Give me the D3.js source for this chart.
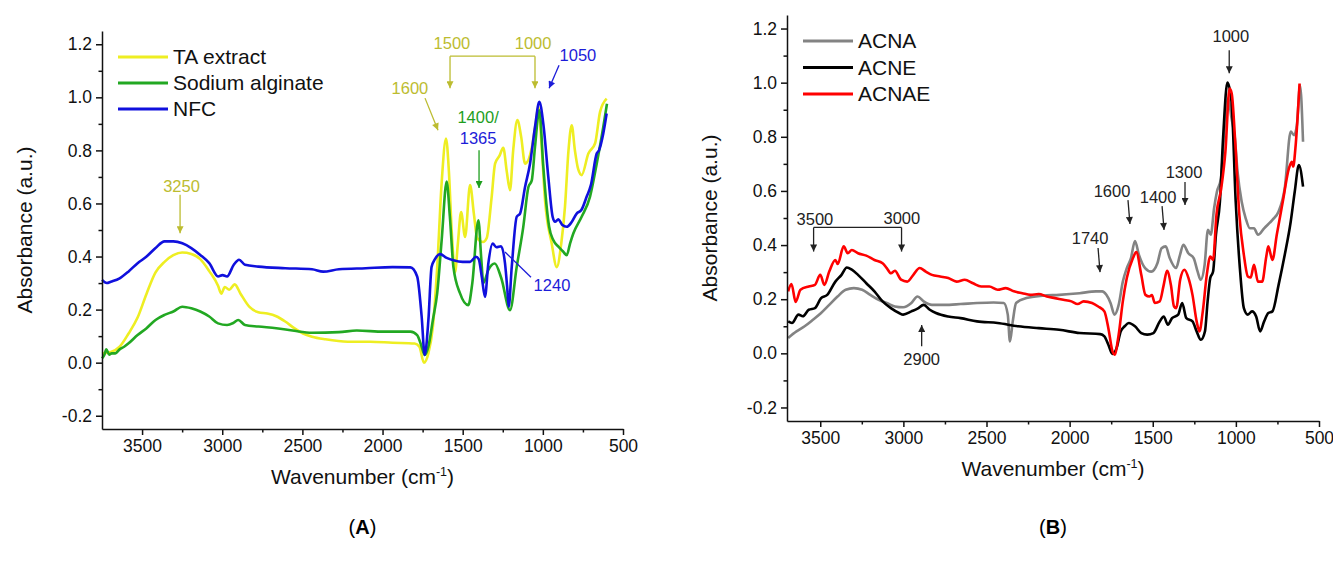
<!DOCTYPE html>
<html>
<head>
<meta charset="utf-8">
<script src="https://cdn.jsdelivr.net/npm/d3@7"></script>
<style>
  body { margin: 0; background: #fff; }
  svg { display: block; }
  text { font-family: "Liberation Sans", Arial, sans-serif; }
</style>
</head>
<body>
<div id="chart"></div>
<script>
// ---- data ----
const xTicks = [3500, 3000, 2500, 2000, 1500, 1000, 500];
const xMinor = [3250, 2750, 2250, 1750, 1250, 750];
const yTicks = [1.2, 1.0, 0.8, 0.6, 0.4, 0.2, 0.0, -0.2];
const yMinor = [1.1, 0.9, 0.7, 0.5, 0.3, 0.1, -0.1];

const taExtract = [[3750,0.035],[3695,0.04],[3640,0.06],[3584,0.11],[3528,0.17],[3472,0.26],[3416,0.34],[3360,0.38],[3305,0.405],[3250,0.415],[3193,0.41],[3137,0.39],[3081,0.345],[3026,0.29],[3006,0.26],[2984,0.285],[2956,0.275],[2922,0.295],[2886,0.26],[2830,0.21],[2775,0.19],[2719,0.185],[2663,0.175],[2607,0.155],[2551,0.13],[2496,0.11],[2440,0.098],[2356,0.088],[2217,0.079],[2077,0.079],[1938,0.075],[1800,0.072],[1770,0.06],[1742,0.0],[1714,0.035],[1686,0.136],[1659,0.36],[1631,0.68],[1604,0.845],[1586,0.72],[1568,0.49],[1548,0.34],[1530,0.45],[1510,0.568],[1485,0.474],[1454,0.669],[1430,0.56],[1410,0.47],[1373,0.455],[1350,0.47],[1320,0.62],[1298,0.75],[1270,0.78],[1247,0.81],[1225,0.72],[1205,0.65],[1185,0.8],[1159,0.914],[1135,0.85],[1111,0.75],[1069,0.81],[1045,0.9],[1028,0.964],[1008,0.82],[986,0.61],[945,0.45],[913,0.36],[885,0.45],[862,0.587],[840,0.8],[820,0.895],[800,0.8],[780,0.73],[758,0.707],[716,0.788],[674,0.827],[643,0.945],[602,0.995]];

const sodiumAlginate = [[3750,0.016],[3735,0.03],[3723,0.05],[3705,0.03],[3690,0.035],[3667,0.035],[3640,0.05],[3612,0.06],[3584,0.073],[3528,0.104],[3472,0.13],[3416,0.161],[3360,0.18],[3305,0.193],[3249,0.211],[3193,0.205],[3137,0.193],[3081,0.174],[3026,0.148],[2970,0.142],[2930,0.15],[2900,0.161],[2858,0.142],[2775,0.136],[2663,0.13],[2551,0.12],[2440,0.113],[2272,0.115],[2161,0.121],[1993,0.117],[1826,0.117],[1784,0.104],[1756,0.06],[1737,0.029],[1714,0.06],[1686,0.161],[1659,0.262],[1631,0.463],[1600,0.683],[1580,0.55],[1558,0.361],[1517,0.262],[1465,0.217],[1440,0.3],[1402,0.537],[1385,0.4],[1371,0.3],[1340,0.35],[1300,0.374],[1260,0.32],[1205,0.198],[1163,0.361],[1122,0.512],[1090,0.662],[1069,0.687],[1049,0.813],[1022,0.951],[997,0.738],[976,0.587],[961,0.513],[935,0.462],[903,0.437],[875,0.42],[851,0.405],[830,0.45],[810,0.487],[758,0.55],[706,0.625],[664,0.75],[623,0.888],[600,0.976]];

const nfc = [[3750,0.312],[3720,0.3],[3695,0.305],[3640,0.318],[3584,0.344],[3528,0.375],[3472,0.4],[3416,0.432],[3360,0.457],[3305,0.457],[3249,0.45],[3193,0.432],[3137,0.406],[3081,0.375],[3026,0.325],[2998,0.33],[2970,0.325],[2928,0.369],[2895,0.388],[2858,0.369],[2775,0.362],[2607,0.356],[2440,0.352],[2370,0.343],[2272,0.352],[2105,0.356],[1938,0.36],[1826,0.359],[1784,0.325],[1756,0.174],[1737,0.029],[1714,0.16],[1694,0.361],[1673,0.39],[1641,0.409],[1600,0.395],[1558,0.386],[1500,0.38],[1454,0.38],[1417,0.399],[1400,0.39],[1381,0.324],[1361,0.248],[1340,0.374],[1313,0.449],[1290,0.435],[1261,0.439],[1236,0.374],[1222,0.28],[1213,0.211],[1194,0.361],[1163,0.55],[1142,0.562],[1111,0.662],[1080,0.75],[1049,0.888],[1022,0.983],[997,0.9],[966,0.7],[939,0.55],[924,0.531],[903,0.54],[880,0.52],[851,0.512],[820,0.53],[789,0.562],[760,0.575],[727,0.625],[700,0.67],[664,0.788],[650,0.8],[623,0.864],[602,0.939]];

const acna = [[3693,0.057],[3643,0.081],[3594,0.1],[3544,0.124],[3495,0.149],[3446,0.179],[3396,0.21],[3347,0.235],[3298,0.241],[3248,0.235],[3199,0.216],[3149,0.198],[3100,0.186],[3051,0.173],[3001,0.17],[2952,0.186],[2915,0.21],[2878,0.192],[2828,0.179],[2754,0.179],[2656,0.182],[2557,0.186],[2458,0.188],[2396,0.186],[2372,0.143],[2359,0.044],[2342,0.118],[2322,0.186],[2260,0.204],[2162,0.213],[2063,0.216],[1940,0.222],[1841,0.229],[1804,0.229],[1779,0.216],[1754,0.186],[1730,0.143],[1705,0.179],[1680,0.265],[1656,0.315],[1631,0.352],[1607,0.415],[1583,0.364],[1546,0.315],[1509,0.302],[1472,0.333],[1447,0.388],[1422,0.395],[1398,0.352],[1360,0.315],[1336,0.364],[1316,0.401],[1286,0.37],[1254,0.352],[1230,0.302],[1212,0.272],[1188,0.327],[1168,0.456],[1151,0.438],[1131,0.536],[1114,0.597],[1090,0.646],[1063,0.868],[1046,0.942],[1026,0.868],[1006,0.794],[990,0.671],[965,0.56],[941,0.499],[916,0.462],[891,0.462],[867,0.438],[830,0.462],[780,0.493],[743,0.524],[706,0.61],[670,0.819],[650,0.806],[633,0.843],[614,0.99],[596,0.782]];

const acne = [[3693,0.118],[3670,0.112],[3631,0.143],[3605,0.137],[3569,0.161],[3532,0.167],[3495,0.204],[3458,0.216],[3409,0.265],[3372,0.29],[3340,0.317],[3310,0.309],[3273,0.29],[3223,0.259],[3174,0.229],[3125,0.192],[3075,0.167],[3026,0.149],[3001,0.143],[2952,0.155],[2915,0.165],[2878,0.179],[2841,0.161],[2804,0.149],[2730,0.136],[2656,0.13],[2557,0.118],[2433,0.112],[2310,0.1],[2186,0.093],[2063,0.087],[1940,0.075],[1816,0.071],[1791,0.063],[1767,0.032],[1742,-0.002],[1717,0.02],[1693,0.081],[1669,0.1],[1644,0.112],[1607,0.1],[1569,0.075],[1533,0.069],[1496,0.075],[1458,0.118],[1434,0.136],[1409,0.106],[1384,0.13],[1347,0.143],[1323,0.186],[1298,0.13],[1261,0.118],[1236,0.081],[1211,0.05],[1186,0.081],[1170,0.192],[1154,0.278],[1137,0.302],[1120,0.438],[1096,0.56],[1076,0.806],[1051,1.0],[1026,0.929],[1001,0.56],[976,0.315],[952,0.167],[928,0.143],[903,0.155],[878,0.136],[854,0.081],[830,0.118],[805,0.149],[780,0.155],[743,0.253],[706,0.364],[670,0.487],[646,0.597],[621,0.696],[596,0.616]];

const acnae = [[3693,0.229],[3673,0.256],[3648,0.19],[3619,0.235],[3569,0.247],[3532,0.253],[3500,0.29],[3475,0.253],[3446,0.302],[3409,0.345],[3395,0.33],[3359,0.395],[3335,0.37],[3310,0.382],[3273,0.37],[3223,0.361],[3174,0.345],[3125,0.333],[3100,0.315],[3075,0.296],[3051,0.305],[3014,0.272],[2977,0.265],[2940,0.29],[2902,0.315],[2865,0.302],[2828,0.29],[2779,0.284],[2730,0.278],[2680,0.265],[2631,0.272],[2581,0.259],[2532,0.247],[2483,0.247],[2433,0.235],[2384,0.241],[2335,0.229],[2285,0.222],[2236,0.216],[2186,0.219],[2137,0.21],[2088,0.204],[2038,0.198],[1989,0.192],[1952,0.182],[1916,0.192],[1865,0.186],[1828,0.173],[1791,0.155],[1767,0.093],[1742,0.007],[1730,-0.005],[1705,0.069],[1680,0.192],[1656,0.278],[1619,0.352],[1599,0.374],[1569,0.29],[1544,0.216],[1520,0.21],[1505,0.215],[1488,0.186],[1458,0.192],[1434,0.253],[1414,0.305],[1391,0.253],[1372,0.173],[1359,0.167],[1335,0.272],[1310,0.309],[1285,0.278],[1261,0.216],[1236,0.118],[1219,0.081],[1199,0.155],[1175,0.29],[1154,0.358],[1137,0.345],[1117,0.511],[1088,0.61],[1063,0.745],[1038,0.978],[1025,0.96],[1004,0.782],[979,0.511],[952,0.364],[928,0.284],[911,0.28],[891,0.327],[867,0.265],[842,0.265],[817,0.358],[805,0.395],[780,0.345],[754,0.438],[718,0.56],[681,0.683],[664,0.708],[655,0.69],[642,0.757],[617,0.997]];

// annotation texts: [label, wavenumber, absorbance, colour]
const olive = "#bcbc30", blueTxt = "#1c1cd8", greenTxt = "#1e9e1e";
const labelsA = [
  ["3250", 3254, 0.664, olive],
  ["1600", 1829, 1.035, olive],
  ["1500", 1567, 1.204, olive],
  ["1000", 1061, 1.204, olive],
  ["1050", 781, 1.159, blueTxt],
  ["1400/", 1404, 0.925, greenTxt],
  ["1365", 1404, 0.846, blueTxt],
  ["1240", 943, 0.292, blueTxt]
];
// arrows: [wn1, ab1, wn2, ab2, colour, head]
const arrowsA = [
  [3263, 0.633, 3263, 0.488, olive, true],
  [1735, 0.997, 1654, 0.876, olive, true],
  [1579, 1.155, 1579, 1.034, olive, true],
  [1049, 1.155, 1049, 1.034, olive, true],
  [1579, 1.155, 1049, 1.155, olive, false],
  [899, 1.121, 961, 1.034, blueTxt, true],
  [1398, 0.801, 1398, 0.658, greenTxt, true],
  [1074, 0.322, 1236, 0.417, blueTxt, false]
];
const labelsB = [
  ["1000", 1030, 1.17, "#222"],
  ["1300", 1312, 0.67, "#222"],
  ["1400", 1468, 0.578, "#222"],
  ["1600", 1745, 0.60, "#222"],
  ["1740", 1877, 0.426, "#222"],
  ["3500", 3532, 0.497, "#222"],
  ["3000", 3009, 0.499, "#222"],
  ["2900", 2890, -0.02, "#222"]
];
const arrowsB = [
  [1040, 1.12, 1040, 1.035, "#222", true],
  [1306, 0.633, 1306, 0.548, "#222", true],
  [1444, 0.544, 1432, 0.456, "#222", true],
  [1649, 0.566, 1637, 0.478, "#222", true],
  [1829, 0.389, 1817, 0.30, "#222", true],
  [3540, 0.465, 3540, 0.376, "#222", true],
  [3011, 0.465, 3011, 0.376, "#222", true],
  [3540, 0.465, 3011, 0.465, "#222", false],
  [2890, 0.026, 2890, 0.105, "#222", true]
];

const panels = [
  { x0: 102, x1: 623, yTop: 31, yBot: 429, xMax: 3750, tag: "A",
    series: [["TA extract", taExtract, "#eeee22"], ["Sodium alginate", sodiumAlginate, "#22a822"], ["NFC", nfc, "#1010dd"]],
    legend: [118, 168, 57, 26], labels: labelsA, arrows: arrowsA },
  { x0: 787, x1: 1319, yTop: 15, yBot: 421, xMax: 3700, tag: "B",
    series: [["ACNA", acna, "#838383"], ["ACNE", acne, "#000000"], ["ACNAE", acnae, "#ff0000"]],
    legend: [803, 853, 41, 26.5], labels: labelsB, arrows: arrowsB }
];

const svg = d3.select("#chart").append("svg")
    .attr("width", 1333)
    .attr("height", 562);

const defs = svg.append("defs");
[olive, blueTxt, greenTxt, "#222"].forEach(function (c, i) {
  defs.append("marker")
      .attr("id", "head" + i)
      .attr("viewBox", "0 0 10 10")
      .attr("refX", 10).attr("refY", 5)
      .attr("markerUnits", "userSpaceOnUse")
      .attr("markerWidth", 8).attr("markerHeight", 7)
      .attr("orient", "auto")
    .append("path")
      .attr("d", "M0,0 L10,5 L0,10 z")
      .attr("fill", c);
});
const headId = { [olive]: "head0", [blueTxt]: "head1", [greenTxt]: "head2", "#222": "head3" };

const fmtY = d => (d < 0 ? "-" : "") + Math.abs(d).toFixed(1);
const fmtX = d3.format("d");

panels.forEach(function (p) {
  const x = d3.scaleLinear().domain([p.xMax, 500]).range([p.x0, p.x1]);
  const y = d3.scaleLinear().domain([-0.25, 1.25]).range([p.yBot, p.yTop]);
  const g = svg.append("g");

  // lines
  const line = d3.line().x(d => x(d[0])).y(d => y(d[1])).curve(d3.curveMonotoneX);
  p.series.forEach(function (s) {
    g.append("path")
        .datum(s[1])
        .attr("d", line)
        .attr("fill", "none")
        .attr("stroke", s[2])
        .attr("stroke-width", 2.6)
        .attr("stroke-linejoin", "round");
  });

  // axes
  g.append("g").attr("transform", `translate(0,${p.yBot})`)
      .call(d3.axisBottom(x).tickValues(xTicks).tickSize(6).tickSizeOuter(0).tickPadding(5).tickFormat(fmtX));
  g.append("g").attr("transform", `translate(0,${p.yBot})`)
      .call(d3.axisBottom(x).tickValues(xMinor).tickSize(3.5).tickFormat("").tickSizeOuter(0))
      .select(".domain").remove();
  g.append("g").attr("transform", `translate(${p.x0},0)`)
      .call(d3.axisLeft(y).tickValues(yTicks).tickSize(6).tickSizeOuter(0).tickPadding(4).tickFormat(fmtY));
  g.append("g").attr("transform", `translate(${p.x0},0)`)
      .call(d3.axisLeft(y).tickValues(yMinor).tickSize(3.5).tickFormat("").tickSizeOuter(0))
      .select(".domain").remove();
  g.selectAll(".domain, .tick line").attr("stroke", "#111").attr("stroke-width", 1.5);
  g.selectAll(".tick text").attr("font-size", 17.5).attr("fill", "#111")
      .attr("font-family", "'Liberation Sans', Arial, sans-serif");

  // axis titles
  const midX = (p.x0 + p.x1) / 2;
  const xt = g.append("text")
      .attr("x", midX).attr("y", p.yBot + 55)
      .attr("text-anchor", "middle")
      .attr("font-size", 21).attr("fill", "#111");
  xt.append("tspan").text("Wavenumber (cm");
  xt.append("tspan").text("-1").attr("font-size", 12.5).attr("dy", -8);
  xt.append("tspan").text(")").attr("dy", 8);

  g.append("text")
      .attr("transform", `translate(${p.x0 - 70},${(p.yTop + p.yBot) / 2}) rotate(-90)`)
      .attr("text-anchor", "middle")
      .attr("font-size", 21).attr("fill", "#111")
      .text("Absorbance (a.u.)");

  // panel tag
  const tg = g.append("text")
      .attr("x", midX).attr("y", 534)
      .attr("text-anchor", "middle")
      .attr("font-family", "'Liberation Serif', 'Times New Roman', serif")
      .attr("font-size", 20).attr("fill", "#000");
  tg.append("tspan").text("(");
  tg.append("tspan").text(p.tag).attr("font-weight", "bold");
  tg.append("tspan").text(")");

  // legend
  const [lx0, lx1, ly0, ldy] = p.legend;
  p.series.forEach(function (s, i) {
    g.append("line")
        .attr("x1", lx0).attr("x2", lx1)
        .attr("y1", ly0 + i * ldy).attr("y2", ly0 + i * ldy)
        .attr("stroke", s[2]).attr("stroke-width", 3);
    g.append("text")
        .attr("x", lx1 + 5).attr("y", ly0 + i * ldy)
        .attr("dy", "0.35em")
        .attr("font-size", 21).attr("fill", "#111")
        .text(s[0]);
  });

  // annotations
  p.arrows.forEach(function (a) {
    const l = g.append("line")
        .attr("x1", x(a[0])).attr("y1", y(a[1]))
        .attr("x2", x(a[2])).attr("y2", y(a[3]))
        .attr("stroke", a[4]).attr("stroke-width", 1.3);
    if (a[5]) l.attr("marker-end", `url(#${headId[a[4]]})`);
  });
  p.labels.forEach(function (t) {
    g.append("text")
        .attr("x", x(t[1])).attr("y", y(t[2]))
        .attr("dy", "0.35em")
        .attr("text-anchor", "middle")
        .attr("font-size", 16.5).attr("fill", t[3])
        .text(t[0]);
  });
});
</script>
</body>
</html>
